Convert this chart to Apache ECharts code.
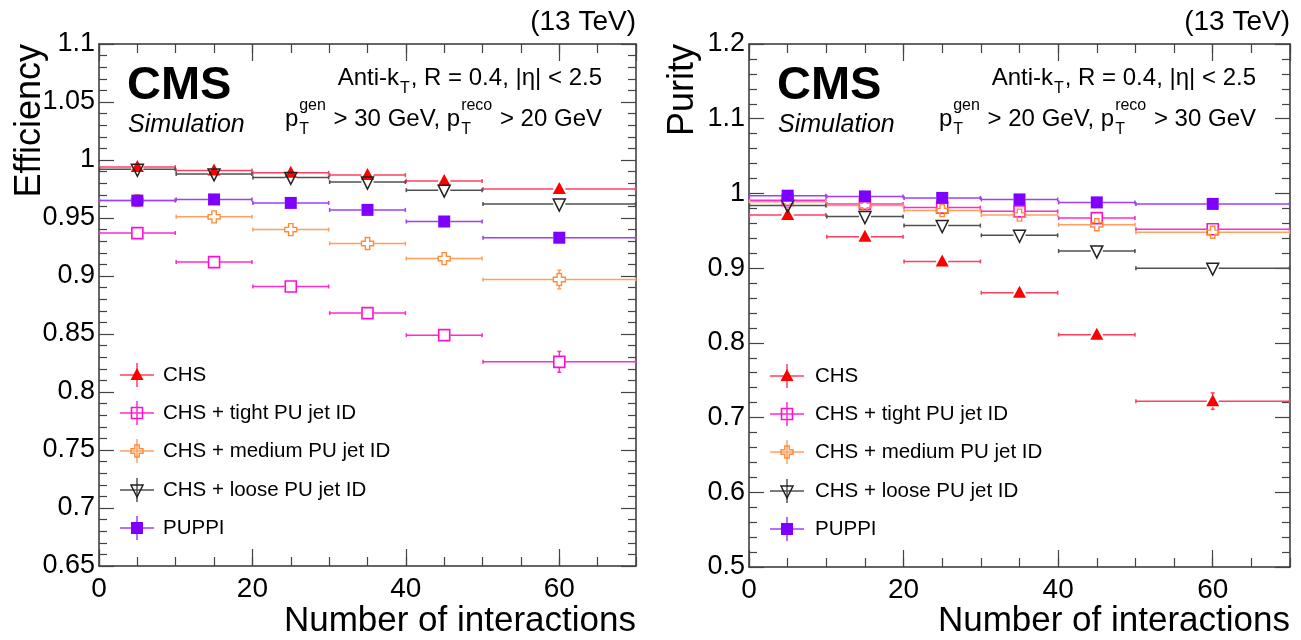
<!DOCTYPE html>
<html>
<head>
<meta charset="utf-8">
<script src="https://cdn.jsdelivr.net/npm/echarts@6/dist/echarts.min.js"></script>
<style>
  html, body { margin: 0; padding: 0; background: #fff; }
  #chart { width: 1301px; height: 640px; }
</style>
</head>
<body>
<div id="chart"></div>
<script>
// bins in number of interactions
const binLo = [0, 10, 20, 30, 40, 50];
const binHi = [10, 20, 30, 40, 50, 70];
const binCenter = [5, 15, 25, 35, 45, 60];

const seriesNames = ['CHS', 'CHS + tight PU jet ID', 'CHS + medium PU jet ID', 'CHS + loose PU jet ID', 'PUPPI'];

// efficiency (left)
const effCHS = [0.994, 0.991, 0.989, 0.987, 0.982, 0.975];
const effTight = [0.937, 0.912, 0.891, 0.868, 0.849, 0.826];
const effMedium = [0.965, 0.951, 0.940, 0.928, 0.915, 0.897];
const effLoose = [0.992, 0.988, 0.985, 0.981, 0.974, 0.962];
const effPuppi = [0.965, 0.966, 0.963, 0.957, 0.947, 0.933];
const effErrCHS = [0.002, 0.002, 0.002, 0.002, 0.002, 0.003];
const effErrTight = [0.002, 0.002, 0.002, 0.003, 0.004, 0.009];
const effErrMedium = [0.002, 0.002, 0.002, 0.003, 0.004, 0.008];
const effErrLoose = [0.002, 0.002, 0.002, 0.002, 0.003, 0.004];
const effErrPuppi = [0.002, 0.002, 0.002, 0.002, 0.003, 0.006];

// purity (right)
const purCHS = [0.971, 0.942, 0.909, 0.867, 0.811, 0.722];
const purTight = [0.991, 0.986, 0.981, 0.976, 0.967, 0.952];
const purMedium = [0.989, 0.984, 0.977, 0.971, 0.958, 0.948];
const purLoose = [0.984, 0.969, 0.957, 0.944, 0.923, 0.900];
const purPuppi = [0.997, 0.996, 0.994, 0.992, 0.988, 0.986];
const purErrCHS = [0.003, 0.003, 0.003, 0.004, 0.005, 0.011];
const purErrTight = [0.002, 0.002, 0.002, 0.003, 0.004, 0.006];
const purErrMedium = [0.002, 0.002, 0.002, 0.003, 0.004, 0.006];
const purErrLoose = [0.002, 0.002, 0.002, 0.003, 0.004, 0.005];
const purErrPuppi = [0.001, 0.001, 0.001, 0.002, 0.002, 0.003];

const yTicksLeft = [0.65, 1.1, 0.05];
const yTicksRight = [0.5, 1.2, 0.1];

const FONT = 'Liberation Sans';
const lineColors = ['#ff3f5f', '#ff2ad0', '#ffa060', '#505050', '#9a40ff'];
const markColors = ['#ff0000', '#ff10cc', '#ff8c3a', '#222222', '#8000ff'];
const markShapes = ['triUp', 'sqOpen', 'crossOpen', 'triDownOpen', 'sqFull'];
const MS = 12;

const gridPos = [
  { left: 99, top: 44, width: 537, height: 522 },
  { left: 749, top: 44, width: 541, height: 523 }
];

function marker(shape, cx, cy, color) {
  const h = MS / 2;
  if (shape === 'triUp') {
    return { type: 'polygon', shape: { points: [[cx, cy - h - 1], [cx - h - 0.5, cy + h - 1], [cx + h + 0.5, cy + h - 1]] }, style: { fill: color } };
  }
  if (shape === 'triDownOpen') {
    return { type: 'polygon', shape: { points: [[cx, cy + h + 1], [cx - h, cy - h + 1], [cx + h, cy - h + 1]] }, style: { fill: null, stroke: color, lineWidth: 1.5 } };
  }
  if (shape === 'sqOpen') {
    return { type: 'rect', shape: { x: cx - h + 0.5, y: cy - h + 0.5, width: MS - 1, height: MS - 1 }, style: { fill: null, stroke: color, lineWidth: 1.6 } };
  }
  if (shape === 'sqFull') {
    return { type: 'rect', shape: { x: cx - h, y: cy - h, width: MS, height: MS }, style: { fill: color } };
  }
  // open cross
  const a = 2.2, L = h;
  return {
    type: 'polygon',
    shape: { points: [
      [cx - a, cy - L], [cx + a, cy - L], [cx + a, cy - a], [cx + L, cy - a], [cx + L, cy + a], [cx + a, cy + a],
      [cx + a, cy + L], [cx - a, cy + L], [cx - a, cy + a], [cx - L, cy + a], [cx - L, cy - a], [cx - a, cy - a]
    ] },
    style: { fill: null, stroke: color, lineWidth: 1.4 }
  };
}

function makeRender(k) {
  return function (params, api) {
    const y = api.value(1), e = api.value(4);
    const c = api.coord([api.value(0), y]);
    const l = api.coord([api.value(2), y]);
    const r = api.coord([api.value(3), y]);
    const t = api.coord([api.value(0), y + e]);
    const b = api.coord([api.value(0), y - e]);
    const h = MS / 2;
    const ls = { stroke: lineColors[k], lineWidth: 1.5 };
    const kids = [
      { type: 'line', shape: { x1: l[0], y1: c[1], x2: c[0] - h, y2: c[1] }, style: ls },
      { type: 'line', shape: { x1: c[0] + h, y1: c[1], x2: r[0], y2: c[1] }, style: ls },
      { type: 'line', shape: { x1: l[0] + 0.5, y1: c[1] - 2, x2: l[0] + 0.5, y2: c[1] + 2 }, style: ls },
      { type: 'line', shape: { x1: r[0] - 0.5, y1: c[1] - 2, x2: r[0] - 0.5, y2: c[1] + 2 }, style: ls }
    ];
    if (c[1] - t[1] > h + 1) {
      kids.push({ type: 'line', shape: { x1: c[0], y1: t[1], x2: c[0], y2: c[1] - h }, style: ls });
      kids.push({ type: 'line', shape: { x1: c[0], y1: c[1] + h, x2: c[0], y2: b[1] }, style: ls });
      kids.push({ type: 'line', shape: { x1: c[0] - 2, y1: t[1], x2: c[0] + 2, y2: t[1] }, style: ls });
      kids.push({ type: 'line', shape: { x1: c[0] - 2, y1: b[1], x2: c[0] + 2, y2: b[1] }, style: ls });
    }
    kids.push(marker(markShapes[k], c[0], c[1], markColors[k]));
    return { type: 'group', children: kids };
  };
}

function rows(vals, errs) {
  return binCenter.map((x, i) => [x, vals[i], binLo[i], binHi[i], errs[i]]);
}

const frameLine = { show: true, onZero: false, lineStyle: { color: '#333', width: 1.5 } };
const tickStyle = { color: '#444', width: 1.2 };

function xAxesFor(g) {
  const base = { gridIndex: g, type: 'value', min: 0, max: 70, splitLine: { show: false } };
  return [
    Object.assign({}, base, { position: 'bottom', interval: 20, axisLine: frameLine,
      axisTick: { inside: true, length: 17, lineStyle: tickStyle },
      axisLabel: { fontSize: 28, fontFamily: FONT, color: '#000', margin: 9, showMaxLabel: false } }),
    Object.assign({}, base, { position: 'bottom', interval: 5, axisLine: { show: false },
      axisTick: { inside: true, length: 9, lineStyle: tickStyle }, axisLabel: { show: false } }),
    Object.assign({}, base, { position: 'top', interval: 20, axisLine: frameLine,
      axisTick: { inside: true, length: 17, lineStyle: tickStyle }, axisLabel: { show: false } }),
    Object.assign({}, base, { position: 'top', interval: 5, axisLine: { show: false },
      axisTick: { inside: true, length: 9, lineStyle: tickStyle }, axisLabel: { show: false } })
  ];
}

function yAxesFor(g, t) {
  const base = { gridIndex: g, type: 'value', min: t[0], max: t[1], interval: t[2], splitLine: { show: false },
    axisLine: frameLine, axisTick: { inside: true, length: 15, lineStyle: tickStyle },
    minorTick: { show: true, splitNumber: 5, length: 8, lineStyle: tickStyle }, minorSplitLine: { show: false } };
  return [
    Object.assign({}, base, { position: 'left',
      axisLabel: { fontSize: 27, fontFamily: FONT, color: '#000', margin: 4, formatter: v => String(+v.toFixed(2)) } }),
    Object.assign({}, base, { position: 'right', axisLabel: { show: false } })
  ];
}

const effSets = [[effCHS, effErrCHS], [effTight, effErrTight], [effMedium, effErrMedium], [effLoose, effErrLoose], [effPuppi, effErrPuppi]];
const purSets = [[purCHS, purErrCHS], [purTight, purErrTight], [purMedium, purErrMedium], [purLoose, purErrLoose], [purPuppi, purErrPuppi]];

const series = [];
[effSets, purSets].forEach((sets, g) => {
  sets.forEach((s, k) => {
    series.push({
      type: 'custom', name: seriesNames[k], xAxisIndex: g * 4, yAxisIndex: g * 2,
      renderItem: makeRender(k), encode: { x: [0, 2, 3], y: 1 }, clip: false,
      data: rows(s[0], s[1])
    });
  });
});

// text helpers
const mctx = document.createElement('canvas').getContext('2d');
function tw(str, size, extra) {
  mctx.font = (extra || '') + ' ' + size + 'px "' + FONT + '"';
  return mctx.measureText(str).width;
}
function txt(x, y, s, size, opts) {
  const o = opts || {};
  return { type: 'text', x: x, y: y, rotation: o.rot || 0, z: 10,
    style: { text: s, fontSize: size, fontFamily: FONT, fontWeight: o.weight || 'normal', fontStyle: o.style || 'normal',
      fill: '#000', textAlign: o.align || 'left', align: o.align || 'left', textVerticalAlign: 'middle', verticalAlign: 'middle' } };
}
function scriptLine(xRight, y, pieces, size) {
  const small = Math.round(size * 0.66);
  let w = 0;
  const items = [];
  pieces.forEach(p => {
    if (typeof p === 'string') { items.push([p, w, 0, size]); w += tw(p, size); }
    else {
      const ws = p.sub ? tw(p.sub, small) : 0, wp = p.sup ? tw(p.sup, small) : 0;
      if (p.sub) items.push([p.sub, w + 1, size * 0.45, small]);
      if (p.sup) items.push([p.sup, w + 1, -size * 0.55, small]);
      w += Math.max(ws, wp) + 2;
    }
  });
  const x0 = xRight - w;
  return items.map(it => txt(x0 + it[1], y + it[2], it[0], it[3]));
}

const graphics = [];
const panelText = [
  { yTitle: 'Efficiency', yTitleX: 30, cut: ['30', '20'] },
  { yTitle: 'Purity', yTitleX: 683, cut: ['20', '30'] }
];
panelText.forEach((pt, g) => {
  const gp = gridPos[g];
  const R = gp.left + gp.width;
  graphics.push(txt(R, 22, '(13 TeV)', 28, { align: 'right' }));
  graphics.push(txt(gp.left + 28, 86, 'CMS', 47, { weight: 'bold' }));
  graphics.push(txt(gp.left + 29, 125, 'Simulation', 25, { style: 'italic' }));
  scriptLine(R - 34, 78, ['Anti-k', { sub: 'T' }, ', R = 0.4, |η| < 2.5'], 24).forEach(e => graphics.push(e));
  scriptLine(R - 34, 119, ['p', { sub: 'T', sup: 'gen' }, ' > ' + pt.cut[0] + ' GeV, p', { sub: 'T', sup: 'reco' }, ' > ' + pt.cut[1] + ' GeV'], 24).forEach(e => graphics.push(e));
  graphics.push(txt(pt.yTitleX, gp.top, pt.yTitle, 36, { align: 'right', rot: Math.PI / 2 }));
  graphics.push(txt(R, 621, 'Number of interactions', 35, { align: 'right' }));
  // legend
  const legY = [375, 413, 451, 490, 528];
  seriesNames.forEach((n, k) => {
    const cx = gp.left + 38, cy = legY[k] + g;
    const ls = { stroke: lineColors[k], lineWidth: 1.5 };
    graphics.push({ type: 'line', z: 10, shape: { x1: cx - 17, y1: cy, x2: cx + 17, y2: cy }, style: ls });
    graphics.push({ type: 'line', z: 10, shape: { x1: cx, y1: cy - 12, x2: cx, y2: cy + 12 }, style: ls });
    const m = marker(markShapes[k], cx, cy, markColors[k]);
    m.z = 11;
    graphics.push(m);
    graphics.push(txt(gp.left + 64 + g * 2, cy, n, 20.5));
  });
});

const chart = echarts.init(document.getElementById('chart'), null, { renderer: 'canvas' });
chart.setOption({
  animation: false,
  backgroundColor: '#fff',
  grid: gridPos.map(p => Object.assign({ containLabel: false }, p)),
  xAxis: xAxesFor(0).concat(xAxesFor(1)),
  yAxis: yAxesFor(0, yTicksLeft).concat(yAxesFor(1, yTicksRight)),
  series: series,
  graphic: graphics
});
</script>
</body>
</html>
